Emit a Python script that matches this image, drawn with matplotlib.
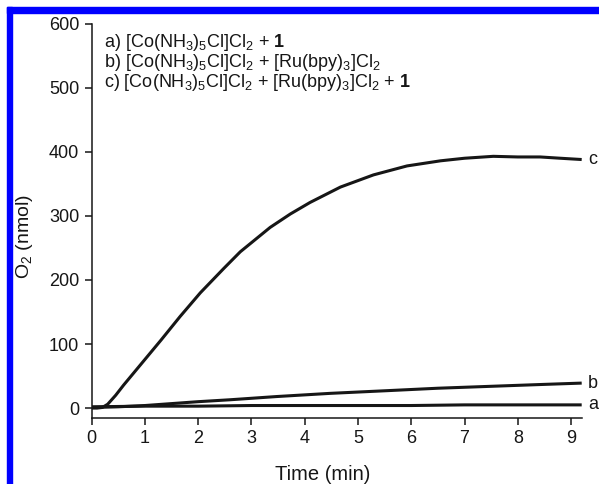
import matplotlib
matplotlib.use("Agg")
import matplotlib.pyplot as plt
from matplotlib.patches import Rectangle

plt.rcParams['font.family'] = ['Liberation Sans', 'DejaVu Sans']
plt.rcParams['mathtext.fontset'] = 'custom'
plt.rcParams['mathtext.rm'] = 'Liberation Sans'
plt.rcParams['mathtext.it'] = 'Liberation Sans:italic'
plt.rcParams['mathtext.bf'] = 'Liberation Sans:bold'

# Data
t_c = [0, 0.1, 0.2, 0.3, 0.45, 0.6, 0.8, 1.0, 1.3, 1.66, 2.04, 2.48, 2.79, 3.35,
       3.73, 4.10, 4.67, 5.29, 5.92, 6.55, 7.0, 7.54, 8.0, 8.42, 8.8, 9.2]
o2_c = [0, 0, 1, 6, 20, 36, 56, 76, 106, 143, 180, 218, 244, 282,
        303, 321, 345, 364, 378, 386, 390, 393, 392, 392, 390, 388]
t_b = [0, 0.5, 1.0, 1.5, 2.0, 2.6, 3.47, 4.48, 5.5, 6.5, 7.5, 8.5, 9.2]
o2_b = [1, 2, 4, 7, 10, 13, 18, 23, 27, 31, 34, 37, 39]
t_a = [0, 1, 2, 3, 4, 5, 6, 7, 8, 9.2]
o2_a = [2, 3, 3, 4, 4, 4, 4, 5, 5, 5]

curve_labels = ['a', 'b', 'c']
legend_lines = [
    r'a) [Co(NH$_3$)$_5$Cl]Cl$_2$ + $\mathbf{1}$',
    r'b) [Co(NH$_3$)$_5$Cl]Cl$_2$ + [Ru(bpy)$_3$]Cl$_2$',
    r'c) [Co(NH$_3$)$_5$Cl]Cl$_2$ + [Ru(bpy)$_3$]Cl$_2$ + $\mathbf{1}$',
]
x_ticks = [0, 1, 2, 3, 4, 5, 6, 7, 8, 9]
y_ticks = [0, 100, 200, 300, 400, 500, 600]

fig = plt.figure(figsize=(5.99, 4.84), dpi=100)
ax = fig.add_axes([0.1531, 0.137, 0.818, 0.814])

col = '#161616'
lw = 2.2
ax.plot(t_a, o2_a, color=col, lw=lw, solid_capstyle='butt', solid_joinstyle='round')
ax.plot(t_b, o2_b, color=col, lw=lw, solid_capstyle='butt', solid_joinstyle='round')
ax.plot(t_c, o2_c, color=col, lw=lw, solid_capstyle='butt', solid_joinstyle='round')

ax.set_xlim(0, 9.2)
ax.set_ylim(-15, 600)
ax.set_xticks(x_ticks)
ax.set_yticks(y_ticks)
for s in ['top', 'right']:
    ax.spines[s].set_visible(False)
for s in ['left', 'bottom']:
    ax.spines[s].set_linewidth(1.1)
    ax.spines[s].set_color(col)
ax.tick_params(direction='out', length=5, width=1.1, labelsize=13, colors=col, pad=4)

ax.set_xlabel('Time (min)', fontsize=14.5, color=col, va='center')
ax.xaxis.set_label_coords(0.471, -0.143)
ax.set_ylabel(r'O$_2$ (nmol)', fontsize=14, color=col, va='center')
ax.yaxis.set_label_coords(-0.137, 0.461)

# curve end labels
ends = [(t_a[-1], o2_a[-1]), (t_b[-1], o2_b[-1]), (t_c[-1], o2_c[-1])]
for lab, (x, y) in zip(curve_labels, ends):
    ax.text(x + 0.12, y, lab, fontsize=13, color=col, ha='left', va='center', clip_on=False)

# legend text
for i, line in enumerate(legend_lines):
    ax.text(0.025, 0.953 - i * 0.051, line, transform=ax.transAxes, fontsize=13,
            color=col, ha='left', va='center')

# blue frame
W, H = 599, 484
fig.patches.append(Rectangle((7 / W, (H - 13) / H), (W - 7) / W, 6 / H,
                             transform=fig.transFigure, color='#0000ff', zorder=10))
fig.patches.append(Rectangle((7 / W, 0), 5 / W, (H - 7) / H,
                             transform=fig.transFigure, color='#0000ff', zorder=10))

fig.savefig('out.png', dpi=100)
